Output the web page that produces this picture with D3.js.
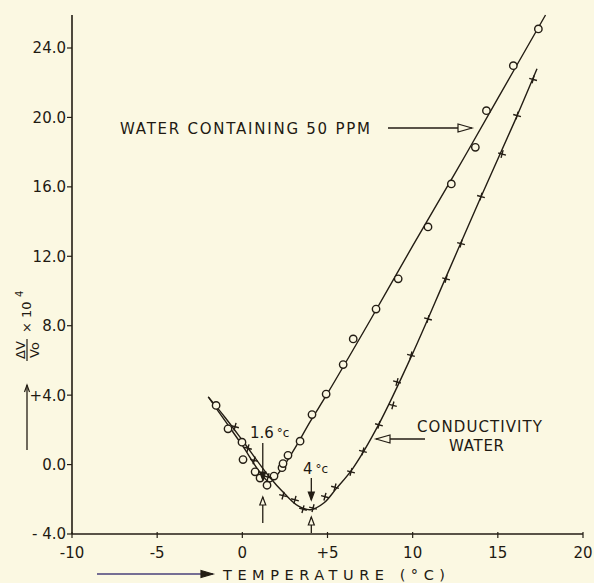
<!DOCTYPE html>
<html>
<head>
<meta charset="utf-8">
<script src="https://cdnjs.cloudflare.com/ajax/libs/d3/7.8.5/d3.min.js"></script>
<style>
body { margin: 0; background: #fbf8e2; }
svg { display: block; }
text { font-family: "DejaVu Sans", sans-serif; fill: #1f1a12; }
</style>
</head>
<body>
<svg width="594" height="583"></svg>
<script>
// axis ticks
var xTicks = [-10, -5, 0, 5, 10, 15, 20];
var xTickLabels = ["-10", "-5", "0", "+5", "10", "15", "20"];
var yTicks = [-4, 0, 4, 8, 12, 16, 20, 24];
var yTickLabels = ["- 4.0", "0.0", "+4.0", "8.0", "12.0", "16.0", "20.0", "24.0"];

// water containing 50 ppm (circles)
var ppmTemp = [-1.54, -0.84, -0.02, 0.04, 0.75, 1.04, 1.45, 1.86, 2.33, 2.39, 2.68, 3.39, 4.09, 4.92, 5.92, 6.51, 7.85, 9.15, 10.9, 12.27, 13.68, 14.33, 15.91, 17.38];
var ppmDv   = [3.41, 2.06, 1.29, 0.29, -0.42, -0.78, -1.19, -0.66, -0.18, 0.06, 0.53, 1.35, 2.88, 4.06, 5.76, 7.24, 8.96, 10.7, 13.69, 16.17, 18.28, 20.39, 22.98, 25.1];

// conductivity water (crosses)
var condTemp = [-0.43, 0.33, 0.69, 1.51, 2.39, 3.09, 3.56, 4.15, 4.85, 5.44, 6.38, 7.08, 8.02, 8.84, 9.08, 9.9, 10.9, 11.96, 12.84, 14.01, 15.25, 16.13, 17.07];
var condDv   = [2.18, 0.94, 0.24, -0.72, -1.79, -2.03, -2.57, -2.51, -1.85, -1.31, -0.42, 0.76, 2.29, 3.41, 4.76, 6.29, 8.39, 10.7, 12.73, 15.44, 17.89, 20.11, 22.19];

// hand drawn fitted curves
var ppmCurveT  = [-2.0, -1.0, 0.0, 1.0, 1.6, 2.2, 3.0, 4.0, 5.0, 7.5, 10, 12.5, 15, 17.8];
var ppmCurveV  = [3.9, 2.5, 1.1, -0.4, -1.0, -0.4, 0.8, 2.5, 4.1, 8.3, 12.6, 16.8, 21.1, 25.9];
var condCurveT = [-2.0, -1.0, 0.0, 1.5, 2.5, 3.3, 4.0, 4.8, 5.5, 6.5, 8.0, 10, 12, 14, 16, 17.3];
var condCurveV = [3.9, 2.7, 1.4, -0.6, -1.7, -2.4, -2.6, -2.2, -1.4, -0.2, 2.3, 6.4, 10.9, 15.4, 19.8, 22.8];

var svg = d3.select("svg"),
    ink = "#231d14",
    paper = "#fbf8e2";

var x = d3.scaleLinear().domain([-10, 20]).range([72, 583]);
var y = d3.scaleLinear().domain([-4, 24]).range([534, 48]);

// axes
svg.append("line")
    .attr("x1", x(-10)).attr("x2", x(-10))
    .attr("y1", y(-4)).attr("y2", 15)
    .attr("stroke", ink).attr("stroke-width", 1.6);

svg.append("line")
    .attr("x1", x(-10)).attr("x2", x(20))
    .attr("y1", y(-4)).attr("y2", y(-4))
    .attr("stroke", ink).attr("stroke-width", 1.6);

var xAxis = svg.append("g").attr("class", "x-ticks");
xAxis.selectAll("line")
    .data(xTicks)
    .enter().append("line")
    .attr("x1", function (d) { return x(d); })
    .attr("x2", function (d) { return x(d); })
    .attr("y1", y(-4) - 2)
    .attr("y2", y(-4) + 4)
    .attr("stroke", ink).attr("stroke-width", 1.2);
xAxis.selectAll("text")
    .data(xTicks)
    .enter().append("text")
    .attr("x", function (d) { return x(d); })
    .attr("y", y(-4) + 24)
    .attr("text-anchor", "middle")
    .attr("font-size", 15)
    .text(function (d, i) { return xTickLabels[i]; });

var yAxis = svg.append("g").attr("class", "y-ticks");
yAxis.selectAll("line")
    .data(yTicks)
    .enter().append("line")
    .attr("x1", x(-10) - 5)
    .attr("x2", x(-10))
    .attr("y1", function (d) { return y(d); })
    .attr("y2", function (d) { return y(d); })
    .attr("stroke", ink).attr("stroke-width", 1.2);
yAxis.selectAll("text")
    .data(yTicks)
    .enter().append("text")
    .attr("x", x(-10) - 6)
    .attr("y", function (d) { return y(d); })
    .attr("dy", "0.36em")
    .attr("text-anchor", "end")
    .attr("font-size", 15)
    .text(function (d, i) { return yTickLabels[i]; });

// curves
var line = d3.line()
    .x(function (d) { return x(d[0]); })
    .y(function (d) { return y(d[1]); })
    .curve(d3.curveCatmullRom.alpha(0.5));

svg.append("path")
    .datum(d3.zip(ppmCurveT, ppmCurveV))
    .attr("d", line)
    .attr("fill", "none").attr("stroke", ink).attr("stroke-width", 1.4);

svg.append("path")
    .datum(d3.zip(condCurveT, condCurveV))
    .attr("d", line)
    .attr("fill", "none").attr("stroke", ink).attr("stroke-width", 1.4);

// markers
svg.append("g")
    .selectAll("circle")
    .data(d3.zip(ppmTemp, ppmDv))
    .enter().append("circle")
    .attr("cx", function (d) { return x(d[0]); })
    .attr("cy", function (d) { return y(d[1]); })
    .attr("r", 3.7)
    .attr("fill", paper)
    .attr("stroke", ink).attr("stroke-width", 1.4);

svg.append("g")
    .selectAll("path")
    .data(d3.zip(condTemp, condDv))
    .enter().append("path")
    .attr("d", "M-4,0H4M0,-4V4")
    .attr("transform", function (d) {
        return "translate(" + x(d[0]) + "," + y(d[1]) + ") rotate(15)";
    })
    .attr("stroke", ink).attr("stroke-width", 1.4);

// arrows
function arrow(x1, y1, x2, y2, head, opts) {
    var g = svg.append("g");
    var ang = Math.atan2(y2 - y1, x2 - x1) * 180 / Math.PI;
    g.append("line")
        .attr("x1", x1).attr("y1", y1).attr("x2", x2).attr("y2", y2)
        .attr("stroke", opts.color || ink).attr("stroke-width", opts.width || 1.3);
    var L = opts.len || 8, W = opts.half || 3;
    var p = head == "open"
        ? "M" + (-L) + "," + (-W) + "L0,0L" + (-L) + "," + W
        : "M0,0L" + (-L) + "," + (-W) + "L" + (-L) + "," + W + "Z";
    g.append("path")
        .attr("d", p)
        .attr("transform", "translate(" + x2 + "," + y2 + ") rotate(" + ang + ")")
        .attr("fill", head == "filled" ? ink : head == "hollow" ? paper : "none")
        .attr("stroke", ink).attr("stroke-width", 1.2);
}

// "water containing" label
svg.append("text")
    .attr("x", 120).attr("y", 134)
    .attr("font-size", 15)
    .attr("textLength", 250).attr("lengthAdjust", "spacing")
    .text("WATER CONTAINING 50 PPM");
arrow(388, 128, 472, 128, "hollow", { len: 14, half: 4 });

// conductivity water label
svg.append("text")
    .attr("x", 417).attr("y", 432)
    .attr("font-size", 15)
    .attr("textLength", 125).attr("lengthAdjust", "spacing")
    .text("CONDUCTIVITY");
svg.append("text")
    .attr("x", 449).attr("y", 451)
    .attr("font-size", 15)
    .attr("textLength", 55).attr("lengthAdjust", "spacing")
    .text("WATER");
arrow(425, 439, 376, 439, "hollow", { len: 14, half: 4 });

// 1.6 and 4 degree markers
var t1 = svg.append("text").attr("x", 250).attr("y", 438).attr("font-size", 15);
t1.append("tspan").text("1.6");
t1.append("tspan").attr("font-size", 12).attr("dx", 3).attr("dy", -1).text("°c");
arrow(x(1.2), 443, x(1.2), 480, "filled", { len: 8, half: 3 });
arrow(x(1.2), 523, x(1.2), 497, "hollow", { len: 8, half: 3 });

var t2 = svg.append("text").attr("x", 303).attr("y", 474).attr("font-size", 15);
t2.append("tspan").text("4");
t2.append("tspan").attr("font-size", 12).attr("dx", 3).attr("dy", -1).text("°c");
arrow(x(4.05), 478, x(4.05), 500, "filled", { len: 8, half: 3 });
arrow(x(4.05), 533, x(4.05), 517, "hollow", { len: 8, half: 3 });

// x axis title
svg.append("text")
    .attr("x", 223).attr("y", 580)
    .attr("font-size", 14.5)
    .attr("textLength", 222).attr("lengthAdjust", "spacing")
    .text("TEMPERATURE (°C)");
arrow(97, 574, 213, 574, "filled", { len: 12, half: 3.5, color: "#48407a", width: 1.5 });

// y axis title
var yl = svg.append("g").attr("transform", "translate(27,350) rotate(-90)");
yl.append("text").attr("x", 0).attr("y", -2).attr("text-anchor", "middle")
    .attr("font-size", 13).text("ΔV");
yl.append("line").attr("x1", -11).attr("x2", 11).attr("y1", 0).attr("y2", 0)
    .attr("stroke", ink).attr("stroke-width", 1.2);
yl.append("text").attr("x", 0).attr("y", 12).attr("text-anchor", "middle")
    .attr("font-size", 13).text("Vo");
yl.append("text").attr("x", 17).attr("y", 4).attr("font-size", 13).text("× 10");
yl.append("text").attr("x", 53).attr("y", -4).attr("font-size", 10).text("4");
arrow(27, 450, 27, 385, "open", { len: 7, half: 2.5 });
</script>
</body>
</html>
